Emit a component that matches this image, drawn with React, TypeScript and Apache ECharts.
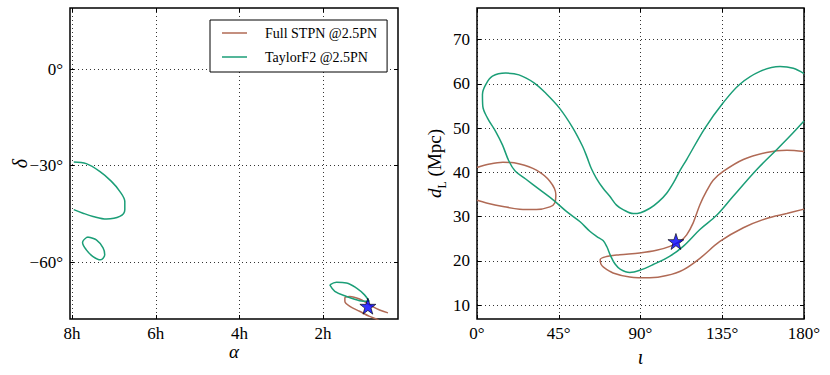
import React, { useEffect, useRef } from 'react';
import * as echarts from 'echarts';

// ---- tick labels ----
const raTicks = [2, 4, 6, 8];
const decTicks = [-60, -30, 0];
const incTicks = [0, 45, 90, 135, 180];
const distTicks = [10, 20, 30, 40, 50, 60, 70];

const seriesNames = ['Full STPN @2.5PN', 'TaylorF2 @2.5PN'];

// ---- left panel: sky position (alpha in hours, delta in degrees) ----
const skyGreenA = [
  [7.96, -28.9], [7.66, -29.4], [7.34, -31.8], [7.06, -34.9], [6.86, -38.0],
  [6.74, -41.2], [6.74, -43.7], [6.86, -45.8], [7.18, -46.6], [7.5, -45.8],
  [7.74, -44.8], [7.96, -43.7],
];
const skyGreenB = [
  [7.64, -52.2], [7.42, -53.1], [7.26, -55.6], [7.22, -57.7], [7.32, -59.3],
  [7.5, -58.3], [7.66, -56.2], [7.75, -53.9], [7.64, -52.2],
];
const skyGreenC = [
  [1.84, -67.1], [1.68, -66.3], [1.44, -66.5], [1.2, -68.1], [1.01, -70.2],
  [0.9, -72.2], [1.13, -72.0], [1.44, -70.7], [1.72, -69.1], [1.84, -67.1],
];
const skyBrown = [
  [0.45, -75.8], [0.65, -74.9], [0.89, -73.3], [1.13, -71.5], [1.36, -70.7],
  [1.48, -71.2], [1.48, -72.2], [1.36, -73.8], [1.13, -75.3], [0.89, -76.9],
  [0.73, -77.7], [0.6, -78.6],
];
const skyStar = [[0.93, -73.7]];

// ---- right panel: inclination (deg) vs luminosity distance (Mpc) ----
const incGreen = [
  [180, 62.3], [174.1, 63.5], [166.8, 63.9], [155.8, 62.8], [144.7, 59.9],
  [135.5, 55.7], [125.5, 50.0], [115.4, 42.9], [111.7, 40.4], [108.9, 38.2],
  [104.4, 35.3], [100, 33.4], [95.2, 31.9], [90, 30.9], [86, 30.7],
  [80.4, 31.6], [76.8, 32.6], [73.1, 34.6], [69.4, 36.4], [65.8, 38.6],
  [63.0, 40.8], [60.5, 43.5], [58.1, 45.9], [52.8, 50.0], [45.4, 54.5],
  [38, 57.8], [31.4, 60.2], [23.1, 62.0], [15.8, 62.4], [8.5, 61.7],
  [4.8, 59.8], [3.0, 57.6], [3.2, 54.9], [5.7, 52.3], [10.3, 49.2],
  [14.0, 46.2], [17.6, 42.5], [21, 40.3], [26.8, 38.5], [34.5, 36.1],
  [41.9, 33.8], [49.2, 31.2], [56.6, 28.9], [62.1, 26.7], [66, 25.5],
  [69.4, 24.6], [71.5, 23.2], [73.5, 21.2], [76, 19.3], [79, 18.1],
  [84.1, 17.4], [89.6, 17.9], [97, 19.2], [106.2, 21.1], [113.5, 23.3],
  [122.7, 27.1], [131.9, 30.3], [141.0, 34.6], [153.9, 40.6], [164.9, 45.1],
  [172.3, 48.2], [180, 51.6],
];
const incBrownA = [
  [0, 41.1], [7.0, 41.9], [14.3, 42.3], [23.5, 41.9], [32.7, 40.5],
  [40.1, 38.0], [43.4, 35.0], [42.8, 33.1], [40.1, 32.2], [32.7, 31.6],
  [23.5, 31.7], [14.3, 32.3], [5.2, 33.1], [0, 33.7],
];
const incBrownB = [
  [180, 44.7], [170.5, 45.0], [159.4, 44.5], [146.6, 42.9], [135.5, 40.2],
  [130, 38.2], [126.4, 35.8], [122.7, 32.7], [119, 28.6], [115.4, 25.9],
  [111.7, 24.4], [106.2, 23.3], [98.8, 22.4], [89.6, 21.8], [78.6, 21.4],
  [71.3, 21.0], [67.8, 20.3], [68.2, 19.3], [69.6, 18.6], [74.9, 17.3],
  [84.1, 16.4], [95.2, 16.2], [104.4, 16.7], [113.5, 18.0], [122.7, 20.6],
  [133.7, 24.4], [146.6, 27.5], [159.4, 29.6], [170.5, 30.7], [180, 31.7],
];
const incStar = [[109.5, 24.4]];

const BROWN = '#b06a55';
const GREEN = '#1b9e77';
const FONT = 'Liberation Serif';
const STAR = 'path://M50,0 L61.8,35.1 L98.1,35.1 L68.8,56.7 L79.4,91 L50,70 L20.6,91 L31.2,56.7 L1.9,35.1 L38.2,35.1 Z';
const LEGEND_LINE = 'path://M0,0 H25 V1.5 H0 Z';

const minus = (s: string) => s.replace('-', '\u2212');

function buildOption() {
  const tickStyle = { show: true, inside: true, length: 4, lineStyle: { color: '#000', width: 1 } };
  const noLine = { show: false, onZero: false };
  const grid = { type: [1, 3], color: '#000', width: 0.8 };
  const lbl = { fontFamily: FONT, fontSize: 17, color: '#000' };
  const nameStyle = { fontFamily: FONT, fontSize: 20, fontStyle: 'italic', color: '#000' };

  const line = (name: string, data: number[][], color: string, xi: number, yi: number) => ({
    type: 'line', name, data, xAxisIndex: xi, yAxisIndex: yi, smooth: 0.35,
    symbol: 'none', showSymbol: false, clip: true,
    lineStyle: { color, width: 1.5 }, itemStyle: { color }, z: 3,
  });
  const star = (data: number[][], xi: number, yi: number) => ({
    type: 'scatter', data, xAxisIndex: xi, yAxisIndex: yi, symbol: STAR, symbolSize: 16,
    itemStyle: { color: '#0000ff', borderColor: '#000', borderWidth: 0.8 }, z: 5,
  });

  const raAxis = { min: 0.21, max: 8.05, inverse: true };
  const decAxis = { min: -77.7, max: 19 };
  const incAxis = { min: 0, max: 180, interval: 45 };
  const distAxis = { min: 6.9, max: 77.1 };

  return {
    animation: false,
    textStyle: { fontFamily: FONT, fontSize: 17, color: '#000' },
    grid: [
      { left: 70, top: 8, width: 328, height: 311, show: true, borderColor: '#000', borderWidth: 1.5 },
      { left: 477, top: 8, width: 327, height: 311, show: true, borderColor: '#000', borderWidth: 1.5 },
    ],
    legend: {
      data: seriesNames.map((n) => ({ name: n, icon: LEGEND_LINE })),
      orient: 'vertical', left: 210, top: 20,
      padding: [6, 10, 8, 12], itemGap: 10, itemWidth: 25, itemHeight: 14,
      backgroundColor: '#fff', borderColor: '#000', borderWidth: 1,
      textStyle: { fontFamily: FONT, fontSize: 14, color: '#000', padding: [0, 0, 0, 13] },
      z: 10,
    },
    xAxis: [
      {
        type: 'value', gridIndex: 0, position: 'bottom', ...raAxis,
        axisLine: noLine,
        axisTick: { ...tickStyle, customValues: raTicks },
        axisLabel: { ...lbl, customValues: raTicks, margin: 6, formatter: (v: number) => `${v}h` },
        splitLine: { show: true, lineStyle: grid },
        name: 'α', nameLocation: 'middle', nameGap: 23, nameMoveOverlap: false,
        nameTextStyle: { ...nameStyle, fontSize: 19 },
      },
      {
        type: 'value', gridIndex: 0, position: 'top', ...raAxis,
        axisLine: noLine,
        axisTick: { ...tickStyle, customValues: raTicks },
        axisLabel: { show: false }, splitLine: { show: false },
      },
      {
        type: 'value', gridIndex: 1, position: 'bottom', ...incAxis,
        axisLine: noLine,
        axisTick: tickStyle,
        axisLabel: { ...lbl, customValues: incTicks, margin: 6, formatter: (v: number) => `${v}°` },
        splitLine: { show: true, lineStyle: grid },
        name: 'ι', nameLocation: 'middle', nameGap: 28, nameMoveOverlap: false,
        nameTextStyle: nameStyle,
      },
      {
        type: 'value', gridIndex: 1, position: 'top', ...incAxis,
        axisLine: noLine,
        axisTick: tickStyle,
        axisLabel: { show: false }, splitLine: { show: false },
      },
    ],
    yAxis: [
      {
        type: 'value', gridIndex: 0, position: 'left', ...decAxis,
        axisLine: noLine,
        axisTick: { ...tickStyle, customValues: decTicks },
        axisLabel: { ...lbl, customValues: decTicks, margin: 7, formatter: (v: number) => minus(`${v}°`) },
        splitLine: { show: true, lineStyle: grid },
        name: 'δ', nameLocation: 'middle', nameGap: 40, nameMoveOverlap: false,
        nameTextStyle: nameStyle,
      },
      {
        type: 'value', gridIndex: 0, position: 'right', ...decAxis,
        axisLine: noLine,
        axisTick: { ...tickStyle, customValues: decTicks },
        axisLabel: { show: false }, splitLine: { show: false },
      },
      {
        type: 'value', gridIndex: 1, position: 'left', ...distAxis,
        axisLine: noLine,
        axisTick: { ...tickStyle, customValues: distTicks },
        axisLabel: { ...lbl, customValues: distTicks, margin: 7 },
        splitLine: { show: true, lineStyle: grid },
        name: '{i|d}{s|L}{n| (Mpc)}', nameLocation: 'middle', nameGap: 29, nameMoveOverlap: false,
        nameTextStyle: {
          color: '#000',
          rich: {
            i: { fontFamily: FONT, fontSize: 19, fontStyle: 'italic', verticalAlign: 'bottom', padding: [0, 0, 4, 0], color: '#000' },
            s: { fontFamily: FONT, fontSize: 12, verticalAlign: 'bottom', color: '#000' },
            n: { fontFamily: FONT, fontSize: 19, verticalAlign: 'bottom', padding: [0, 0, 4, 0], color: '#000' },
          },
        },
      },
      {
        type: 'value', gridIndex: 1, position: 'right', ...distAxis,
        axisLine: noLine,
        axisTick: { ...tickStyle, customValues: distTicks },
        axisLabel: { show: false }, splitLine: { show: false },
      },
    ],
    series: [
      line(seriesNames[0], skyBrown, BROWN, 0, 0),
      line(seriesNames[1], skyGreenA, GREEN, 0, 0),
      line(seriesNames[1], skyGreenB, GREEN, 0, 0),
      line(seriesNames[1], skyGreenC, GREEN, 0, 0),
      star(skyStar, 0, 0),
      line(seriesNames[0], incBrownA, BROWN, 2, 2),
      line(seriesNames[0], incBrownB, BROWN, 2, 2),
      line(seriesNames[1], incGreen, GREEN, 2, 2),
      star(incStar, 2, 2),
    ],
  };
}

export default function App() {
  const ref = useRef<HTMLDivElement>(null);
  useEffect(() => {
    if (!ref.current) return;
    const chart = echarts.init(ref.current, undefined, { renderer: 'svg' });
    chart.setOption(buildOption() as any);
    return () => chart.dispose();
  }, []);
  return (
    <div
      ref={ref}
      style={{ position: 'fixed', left: 0, top: 0, width: 830, height: 375, background: '#fff' }}
    />
  );
}
